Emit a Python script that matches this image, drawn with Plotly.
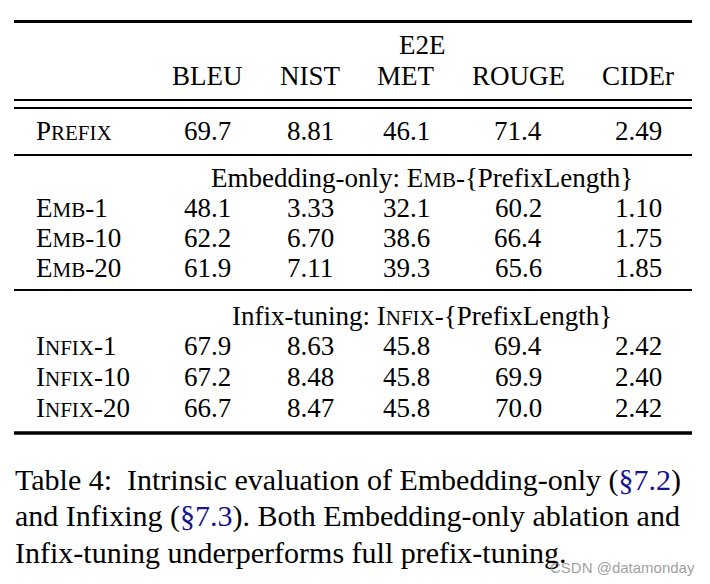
import plotly.graph_objects as go

# ---------------- data ----------------
metric_names = ["BLEU", "NIST", "MET", "ROUGE", "CIDEr"]
dataset_name = "E2E"

prefix_label = ("P", "REFIX", "")
prefix_vals = ["69.7", "8.81", "46.1", "71.4", "2.49"]

emb_title = ("Embedding-only: ", "E", "MB", "-{PrefixLength}")
emb_labels = [("E", "MB", "-1"), ("E", "MB", "-10"), ("E", "MB", "-20")]
emb_bleu = ["48.1", "62.2", "61.9"]
emb_nist = ["3.33", "6.70", "7.11"]
emb_met = ["32.1", "38.6", "39.3"]
emb_rouge = ["60.2", "66.4", "65.6"]
emb_cider = ["1.10", "1.75", "1.85"]

infix_title = ("Infix-tuning: ", "I", "NFIX", "-{PrefixLength}")
infix_labels = [("I", "NFIX", "-1"), ("I", "NFIX", "-10"), ("I", "NFIX", "-20")]
infix_bleu = ["67.9", "67.2", "66.7"]
infix_nist = ["8.63", "8.48", "8.47"]
infix_met = ["45.8", "45.8", "45.8"]
infix_rouge = ["69.4", "69.9", "70.0"]
infix_cider = ["2.42", "2.40", "2.42"]

caption_lines = [
    [("Table 4:  Intrinsic evaluation of Embedding-only (", False), ("§7.2", True), (")", False)],
    [("and Infixing (", False), ("§7.3", True), ("). Both Embedding-only ablation and", False)],
    [("Infix-tuning underperforms full prefix-tuning.", False)],
]
watermark = "CSDN @datamonday"

# ---------------- layout constants ----------------
W, H = 710, 584
FONT = "Liberation Serif, Times New Roman, serif"
FS = 27
SC = 21  # small-caps size
CAP_FS = 30
col_x = [207, 310, 406, 518, 638]
label_x = 34
x0, x1 = 14, 692
LINK = "#14148c"


def sc(parts):
    big, small, rest = parts
    return f"{big}<span style='font-size:{SC}px'>{small}</span>{rest}"


fig = go.Figure()
fig.add_trace(go.Scatter(x=[0, W], y=[0, H], mode="markers",
                         marker=dict(opacity=0), hoverinfo="skip", showlegend=False))

ann = []


def text(x, y, s, xanchor="center", size=FS, color="black", font=FONT):
    ann.append(dict(x=x, y=y, xref="x", yref="y", text=s, showarrow=False,
                    xanchor=xanchor, yanchor="middle",
                    font=dict(family=font, size=size, color=color)))


shapes = []


def rule(y, w):
    shapes.append(dict(type="line", xref="x", yref="y", x0=x0, x1=x1, y0=y, y1=y,
                       line=dict(color="black", width=w)))


# header
rule(21.5, 3)
text((col_x[0] - 35 + col_x[-1] + 35) / 2, 45, dataset_name)
for cx, name in zip(col_x, metric_names):
    text(cx, 76, name)
rule(100, 2)
rule(108, 2)

# prefix row
text(label_x, 131, sc(prefix_label), xanchor="left")
for cx, v in zip(col_x, prefix_vals):
    text(cx, 131, v)
rule(155, 2)

# embedding group
pre, big, small, rest = emb_title
text(422, 178, f"{pre}{big}<span style='font-size:{SC}px'>{small}</span>{rest}")
emb_cols = [emb_bleu, emb_nist, emb_met, emb_rouge, emb_cider]
for i, lab in enumerate(emb_labels):
    y = 208 + i * 30
    text(label_x, y, sc(lab), xanchor="left")
    for cx, col in zip(col_x, emb_cols):
        text(cx, y, col[i])
rule(290, 2)

# infix group
pre, big, small, rest = infix_title
text(422, 316, f"{pre}{big}<span style='font-size:{SC}px'>{small}</span>{rest}")
infix_cols = [infix_bleu, infix_nist, infix_met, infix_rouge, infix_cider]
for i, lab in enumerate(infix_labels):
    y = 346 + i * 31
    text(label_x, y, sc(lab), xanchor="left")
    for cx, col in zip(col_x, infix_cols):
        text(cx, y, col[i])
rule(433, 3.5)

# caption
for li, parts in enumerate(caption_lines):
    s = "".join(f"<span style='color:{LINK}'>{t}</span>" if link else t for t, link in parts)
    text(13, 479.5 + li * 36.5, s, xanchor="left", size=CAP_FS)

# watermark
text(548, 567, watermark, xanchor="left", size=15, color="rgba(140,140,140,0.85)",
     font="Liberation Sans, Arial, sans-serif")

fig.update_layout(
    width=W, height=H, margin=dict(l=0, r=0, t=0, b=0),
    paper_bgcolor="white", plot_bgcolor="white",
    xaxis=dict(range=[0, W], visible=False, fixedrange=True),
    yaxis=dict(range=[H, 0], visible=False, fixedrange=True),
    annotations=ann, shapes=shapes, showlegend=False,
)
fig.write_html(
    "out.html",
    config={"displayModeBar": False},
    post_script="document.body.style.margin='0';document.body.style.overflow='hidden';",
)
